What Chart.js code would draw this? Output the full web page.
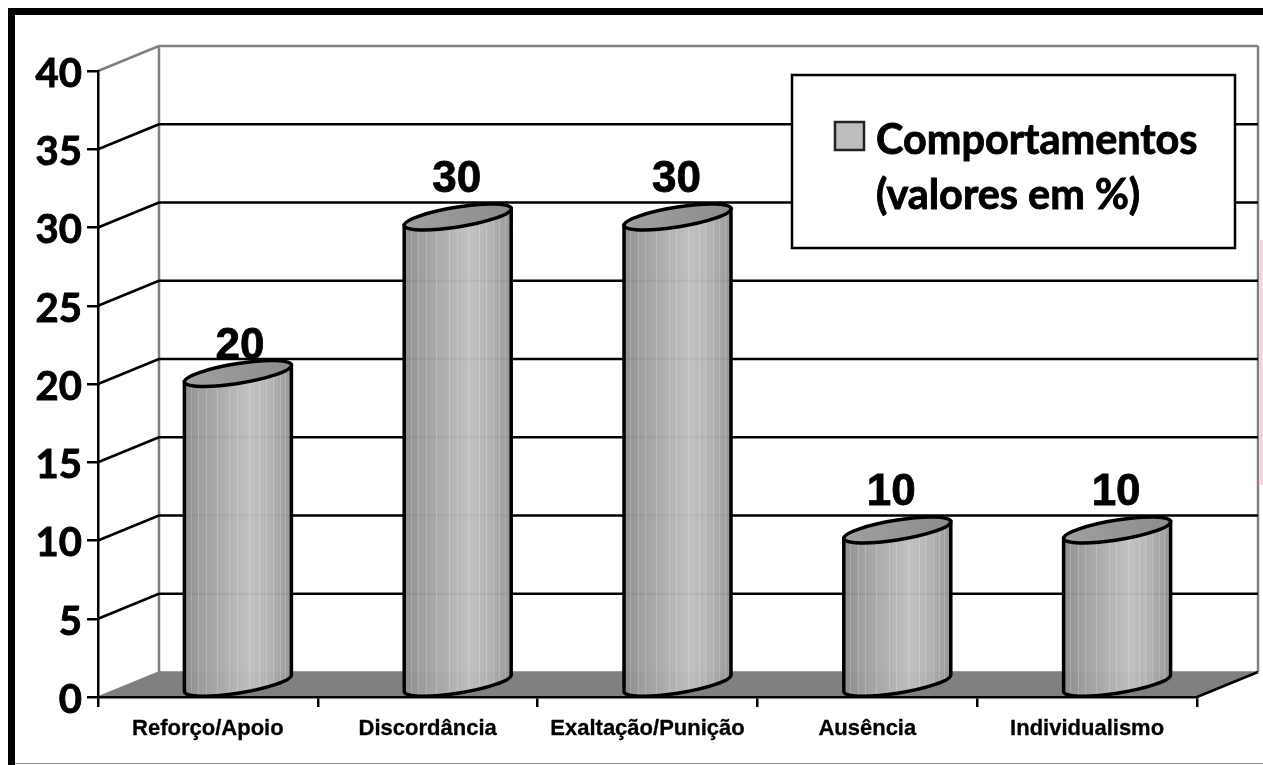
<!DOCTYPE html>
<html>
<head>
<meta charset="utf-8">
<title>Comportamentos</title>
<script src="https://cdn.jsdelivr.net/npm/chart.js@4"></script>
<style>
  html, body { margin: 0; padding: 0; background: #fff; overflow: hidden; }
  #wrap { position: relative; width: 1263px; height: 765px; }
</style>
</head>
<body>
<div id="wrap"><canvas id="comportamentosChart"></canvas></div>
<script>
const categories = ['Reforço/Apoio', 'Discordância', 'Exaltação/Punição', 'Ausência', 'Individualismo'];
const values = [20, 30, 30, 10, 10];
const yMin = 0;
const yMax = 40;
const yStep = 5;
const legendLines = ['Comportamentos', '(valores em %)'];

// depth of the fake 3D box, in pixels
const depthX = 61;
const depthY = -25;
const TICK_FONT = 'Lato';
const ARIAL = '"Liberation Sans"';

// page frame and the pink sliver on the right edge
function drawFrame(ctx) {
    ctx.fillStyle = '#f2d6e6';
    ctx.fillRect(1260, 240, 3, 245);
    ctx.fillStyle = '#000';
    ctx.fillRect(8, 8, 1255, 7);
    ctx.fillRect(8, 8, 7, 757);
    ctx.fillStyle = '#8c8c8c';
    ctx.fillRect(15, 763, 1248, 1);
}

function line(ctx, x1, y1, x2, y2, color, width) {
    ctx.strokeStyle = color;
    ctx.lineWidth = width;
    ctx.beginPath();
    ctx.moveTo(x1, y1);
    ctx.lineTo(x2, y2);
    ctx.stroke();
}

function drawBox(chart) {
    const ctx = chart.ctx;
    const a = chart.chartArea;
    const y = chart.scales.y;
    const backL = a.left + depthX;
    const backR = a.right + depthX;
    const base = y.getPixelForValue(yMin);

    ctx.save();
    // floor
    ctx.fillStyle = '#808080';
    ctx.beginPath();
    ctx.moveTo(a.left, base);
    ctx.lineTo(backL, base + depthY);
    ctx.lineTo(backR, base + depthY);
    ctx.lineTo(a.right, base);
    ctx.closePath();
    ctx.fill();

    // grey outline of the walls
    const top = y.getPixelForValue(yMax);
    line(ctx, a.left, top, backL, top + depthY, '#808080', 2.5);
    line(ctx, backL, top + depthY, backR, top + depthY, '#808080', 2.5);
    line(ctx, backL, top + depthY, backL, base + depthY, '#808080', 2.5);
    line(ctx, backR, top + depthY, backR, base + depthY, '#808080', 2.5);
    line(ctx, a.left, base, backL, base + depthY, '#808080', 1.5);
    line(ctx, backL, base + depthY, backR, base + depthY, '#808080', 1.5);
    line(ctx, a.right, base, backR, base + depthY, '#000', 2.5);

    // grid lines along side wall and back wall
    for (let v = yMin + yStep; v < yMax; v += yStep) {
        const p = y.getPixelForValue(v);
        line(ctx, a.left, p, backL, p + depthY, '#000', 2.5);
        line(ctx, backL, p + depthY, backR, p + depthY, '#000', 2.5);
    }
    ctx.restore();
}

function drawLegend(ctx) {
    ctx.save();
    ctx.fillStyle = '#fff';
    ctx.fillRect(792, 75, 443, 173);
    ctx.strokeStyle = '#000';
    ctx.lineWidth = 2.5;
    ctx.strokeRect(792, 75, 443, 173);

    ctx.fillStyle = '#bebebe';
    ctx.fillRect(835, 122, 29, 28);
    ctx.strokeStyle = '#222';
    ctx.strokeRect(835, 122, 29, 28);

    ctx.fillStyle = '#000';
    ctx.strokeStyle = '#000';
    ctx.lineWidth = 0.9;
    ctx.font = 'bold 41.4px ' + TICK_FONT;
    ctx.textAlign = 'left';
    ctx.textBaseline = 'middle';
    ctx.fillText(legendLines[0], 876, 141);
    ctx.strokeText(legendLines[0], 876, 141);
    ctx.fillText(legendLines[1], 876, 196);
    ctx.strokeText(legendLines[1], 876, 196);
    ctx.restore();
}

function barFill(ctx, left, width) {
    const g = ctx.createLinearGradient(left, 0, left + width, 0);
    g.addColorStop(0, '#8c8c8c');
    g.addColorStop(0.15, '#9c9c9c');
    g.addColorStop(0.4, '#afafaf');
    g.addColorStop(0.62, '#bfbfbf');
    g.addColorStop(0.8, '#b2b2b2');
    g.addColorStop(1, '#949494');
    return g;
}

// sheared ellipse, so the sides meet the body at the leftmost/rightmost points
function ellipsePath(ctx, cx, cy, a, b, slope, from, to, ccw) {
    ctx.save();
    ctx.transform(1, slope, 0, 1, cx, cy);
    ctx.ellipse(0, 0, a, b, 0, from, to, ccw);
    ctx.restore();
}

function drawCylinder(ctx, el) {
    const w = el.width;
    const a = w / 2;
    const b = 10;
    const slope = -0.155;
    const cx = el.x + 30;
    const topY = el.y - 10.5;
    const botY = el.base - 12.5;
    const left = cx - a;

    ctx.save();
    // body
    ctx.beginPath();
    ctx.moveTo(left, topY - slope * a);
    ctx.lineTo(left, botY - slope * a);
    ellipsePath(ctx, cx, botY, a, b, slope, Math.PI, 0, true);
    ctx.lineTo(left + w, topY + slope * a);
    ctx.closePath();
    ctx.save();
    ctx.globalAlpha = 0.97;
    ctx.fillStyle = barFill(ctx, left, w);
    ctx.fill();
    ctx.restore();

    // thin pale facets of the cylinder
    ctx.save();
    ctx.clip();
    ctx.fillStyle = 'rgba(255,255,255,0.2)';
    const facets = [0.06, 0.13, 0.2, 0.3, 0.42, 0.49, 0.6, 0.7, 0.76, 0.83, 0.89, 0.94];
    facets.forEach(f => ctx.fillRect(Math.round(left + f * w), el.y - 20, 1, el.base - el.y + 20));
    ctx.restore();

    ctx.strokeStyle = '#000';
    ctx.lineWidth = 3.5;
    ctx.stroke();

    // top cap
    ctx.beginPath();
    ellipsePath(ctx, cx, topY, a, b, slope, 0, Math.PI * 2, false);
    ctx.closePath();
    const g = ctx.createLinearGradient(left, 0, left + w, 0);
    g.addColorStop(0, '#a0a0a0');
    g.addColorStop(1, '#8c8c8c');
    ctx.fillStyle = g;
    ctx.fill();
    ctx.stroke();
    ctx.restore();
}

function drawValueLabels(chart) {
    const ctx = chart.ctx;
    const bars = chart.getDatasetMeta(0).data;
    // horizontal placement, per bar
    const nudgeX = [32, 29, 29, 24, 29];
    ctx.save();
    ctx.fillStyle = '#000';
    ctx.strokeStyle = '#000';
    ctx.lineWidth = 0.8;
    ctx.font = 'bold 44px ' + ARIAL;
    ctx.textAlign = 'center';
    ctx.textBaseline = 'middle';
    bars.forEach((el, i) => {
        // the first label sits lower in the reference and is cut by its bar
        const lift = values[i] === 20 ? 37 : 48;
        ctx.fillText(String(values[i]), el.x + nudgeX[i], el.y - lift);
        ctx.strokeText(String(values[i]), el.x + nudgeX[i], el.y - lift);
    });
    ctx.restore();
}

const boxPlugin = {
    id: 'box3d',
    beforeDraw(chart) {
        drawFrame(chart.ctx);
        drawBox(chart);
    },
    afterDatasetsDraw(chart) {
        drawLegend(chart.ctx);
        drawValueLabels(chart);
        chart.getDatasetMeta(0).data.forEach(el => drawCylinder(chart.ctx, el));
    }
};

const ctx = document.getElementById('comportamentosChart').getContext('2d');
const comportamentosChart = new Chart(ctx, {
    type: 'bar',
    data: {
        labels: categories,
        datasets: [{
            label: legendLines.join(' '),
            data: values,
            backgroundColor: 'rgba(0,0,0,0)',
            borderWidth: 0,
            barThickness: 107
        }]
    },
    options: {
        responsive: true,
        maintainAspectRatio: false,
        animation: false,
        layout: { padding: { top: 71, right: 66, left: 0, bottom: 0 } },
        plugins: { legend: { display: false }, tooltip: { enabled: false } },
        scales: {
            y: {
                min: yMin,
                max: yMax,
                ticks: {
                    stepSize: yStep,
                    padding: 5,
                    labelOffset: 3,
                    color: '#000',
                    textStrokeColor: '#000',
                    textStrokeWidth: 0.9,
                    font: { family: TICK_FONT, size: 40, weight: 'bold' }
                },
                grid: { drawOnChartArea: false, color: '#000', lineWidth: 2.5, tickLength: 11 },
                border: { color: '#000', width: 2.5 },
                afterFit(scale) { scale.width = 98; }
            },
            x: {
                ticks: {
                    padding: 9,
                    color: '#000',
                    maxRotation: 0,
                    autoSkip: false,
                    textStrokeColor: '#000',
                    textStrokeWidth: 0.3,
                    font: { family: ARIAL, size: 22, weight: 'bold' }
                },
                grid: { drawOnChartArea: false, color: '#000', lineWidth: 2.5, tickLength: 10 },
                border: { color: '#000', width: 2.5 },
                afterFit(scale) { scale.height = 68; }
            }
        }
    },
    plugins: [boxPlugin]
});
</script>
</body>
</html>
